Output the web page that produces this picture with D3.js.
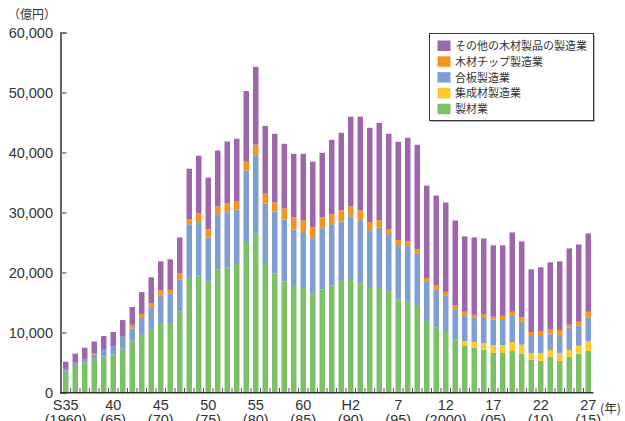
<!DOCTYPE html>
<html>
<head>
<meta charset="utf-8">
<script src="https://cdn.jsdelivr.net/npm/d3@7"></script>
<style>
  body { margin: 0; background: #fff; }
  svg text { font-family: "Liberation Sans", Arial, sans-serif; fill: #333; }
  .jp { font-family: "Noto Sans CJK JP", sans-serif; }
</style>
</head>
<body>
<div id="chart"></div>
<script>
// years S35 (1960) .. H27 (2015)
var years = d3.range(1960, 2016);

// x tick labels (every 5 years)
var tickTop = ["S35", "40", "45", "50", "55", "60", "H2", "7", "12", "17", "22", "27"];
var tickBottom = ["(1960)", "(65)", "(70)", "(75)", "(80)", "(85)", "(90)", "(95)", "(2000)", "(05)", "(10)", "(15)"];
var yTicks = [0, 10000, 20000, 30000, 40000, 50000, 60000];

// values in 億円
var sawmill = [3450, 4430, 4980, 5430, 5980, 6310, 7300, 8630, 9600, 10460,
  11450, 11570, 13560, 19090, 19540, 18540, 20530, 20870, 21410, 25070,
  26510, 21410, 19870, 18540, 17760, 17430, 16550, 17210, 17880, 18430,
  18760, 18210, 17430, 17430, 16770, 15550, 15220, 14440, 11900, 10900,
  10240, 8800, 7800, 7470, 7140, 6590, 6590, 6920, 6470, 5430,
  5260, 5930, 5260, 5930, 6470, 6920];
var laminated = [0, 0, 0, 0, 0, 0, 0, 0, 0, 0,
  0, 0, 0, 0, 0, 0, 0, 0, 0, 0,
  0, 0, 0, 0, 0, 0, 0, 0, 0, 0,
  0, 0, 0, 0, 0, 0, 0, 0, 0, 0,
  0, 0, 780, 950, 1110, 1330, 1330, 1500, 1500, 1160,
  1330, 1160, 1330, 1160, 1330, 1660];
var plywood = [480, 550, 610, 900, 1270, 1440, 2000, 2060, 2970, 3770,
  4740, 4870, 5310, 8960, 8850, 7310, 9180, 9180, 9080, 11950,
  12950, 10080, 10290, 10290, 9410, 9300, 9180, 10180, 10170, 10070,
  10620, 10510, 9630, 10080, 9630, 8850, 9180, 8630, 6530, 6200,
  5860, 5090, 4200, 4030, 4320, 4200, 4310, 4360, 3820, 2990,
  2990, 2710, 2990, 3700, 3320, 3870];
var chip = [0, 0, 0, 120, 0, 0, 0, 600, 520, 680,
  860, 660, 1000, 780, 1440, 1330, 1330, 1440, 1330, 1440,
  1870, 1660, 1550, 1880, 2000, 1990, 1780, 1780, 1660, 1880,
  1660, 1660, 1330, 1210, 770, 1000, 780, 780, 660, 780,
  670, 670, 670, 500, 490, 500, 550, 670, 780, 500,
  660, 660, 830, 500, 670, 1000];
var other = [1200, 1500, 1880, 2050, 2160, 2330, 2770, 2940, 3640, 4300,
  4810, 5090, 5980, 8470, 9630, 8620, 9300, 10340, 10460, 11790,
  12950, 11290, 11400, 10740, 10620, 11070, 10950, 10790, 12400, 12900,
  14940, 15600, 15720, 16220, 15940, 16380, 17270, 17430, 15390, 14940,
  14890, 14110, 12560, 12900, 12620, 11900, 11740, 13230, 12610, 10450,
  10630, 11240, 11450, 12730, 12890, 13060];

var seriesKeys = ["sawmill", "laminated", "plywood", "chip", "other"];
var seriesNames = {
  other: "その他の木材製品の製造業",
  chip: "木材チップ製造業",
  plywood: "合板製造業",
  laminated: "集成材製造業",
  sawmill: "製材業"
};
var colors = {
  sawmill: "#7bc166",
  laminated: "#fdca2c",
  plywood: "#7f9fd3",
  chip: "#f7931e",
  other: "#a066ad"
};

var width = 625, height = 421;
var svg = d3.select("#chart").append("svg")
  .attr("width", width).attr("height", height);

var rows = years.map(function(y, i) {
  return { year: y, sawmill: sawmill[i], laminated: laminated[i], plywood: plywood[i], chip: chip[i], other: other[i] };
});
var stacked = d3.stack().keys(seriesKeys)(rows);

var x = d3.scaleBand().domain(years).range([61, 593]).paddingInner(0.42).paddingOuter(0.21);
var y = d3.scaleLinear().domain([0, 60000]).range([392.5, 32.5]);

// bars
svg.append("g").selectAll("g")
  .data(stacked)
  .join("g")
  .attr("fill", function(d) { return colors[d.key]; })
  .selectAll("rect")
  .data(function(d) { return d; })
  .join("rect")
  .attr("x", function(d) { return x(d.data.year); })
  .attr("width", x.bandwidth())
  .attr("y", function(d) { return y(d[1]); })
  .attr("height", function(d) { return y(d[0]) - y(d[1]); });

// y axis
var yAxis = svg.append("g").attr("transform", "translate(60.5,0)")
  .call(d3.axisRight(y).tickValues(yTicks).tickSize(6).tickFormat(""));
yAxis.select(".domain").attr("stroke", "#333").attr("stroke-width", 1.5);
yAxis.selectAll(".tick line").attr("stroke", "#777").attr("stroke-width", 1.5);

svg.append("g").selectAll("text")
  .data(yTicks)
  .join("text")
  .attr("x", 53)
  .attr("y", function(d) { return y(d) + 5; })
  .attr("text-anchor", "end")
  .attr("font-size", 14.5)
  .text(function(d) { return d3.format(",")(d); });

svg.append("text").attr("class", "jp")
  .attr("x", 8).attr("y", 19)
  .attr("font-size", 12)
  .text("（億円）");

// x axis: ticks at band boundaries, pointing up
var step = x.step();
var boundaries = years.slice(1).map(function(yr) { return x(yr) - (step - x.bandwidth()) / 2; });
svg.append("g").selectAll("line")
  .data(boundaries)
  .join("line")
  .attr("x1", function(d) { return d; })
  .attr("x2", function(d) { return d; })
  .attr("y1", 388)
  .attr("y2", 392.5)
  .attr("stroke", "#555")
  .attr("stroke-width", 1);

svg.append("line")
  .attr("x1", 60).attr("x2", 593.5)
  .attr("y1", 392.7).attr("y2", 392.7)
  .attr("stroke", "#333").attr("stroke-width", 1.5);

var labelYears = years.filter(function(yr, i) { return i % 5 === 0; });
var xl = svg.append("g").selectAll("text")
  .data(labelYears)
  .join("text")
  .attr("text-anchor", "middle")
  .attr("font-size", 14.5)
  .attr("x", function(d) { return x(d) + x.bandwidth() / 2; });
xl.append("tspan")
  .attr("y", 409.5)
  .text(function(d, i) { return tickTop[i]; });
xl.append("tspan")
  .attr("x", function(d) { return x(d) + x.bandwidth() / 2; })
  .attr("y", 425)
  .text(function(d, i) { return tickBottom[i]; });

svg.append("text").attr("class", "jp")
  .attr("x", 600).attr("y", 413)
  .attr("font-size", 12.5)
  .text("(年)");

// legend
var legend = svg.append("g").attr("transform", "translate(429.5,33.5)");
legend.append("rect")
  .attr("x", 1.5).attr("y", 1.5).attr("width", 164).attr("height", 87)
  .attr("fill", "#bbb");
legend.append("rect")
  .attr("width", 164).attr("height", 87)
  .attr("fill", "#fff").attr("stroke", "#333").attr("stroke-width", 1);
var legendKeys = ["other", "chip", "plywood", "laminated", "sawmill"];
var li = legend.selectAll("g.item")
  .data(legendKeys)
  .join("g")
  .attr("class", "item")
  .attr("transform", function(d, i) { return "translate(8," + (7 + i * 15.8) + ")"; });
li.append("rect")
  .attr("width", 13).attr("height", 10.5)
  .attr("fill", function(d) { return colors[d]; });
li.append("text").attr("class", "jp")
  .attr("x", 17.5).attr("y", 9.5)
  .attr("font-size", 11)
  .text(function(d) { return seriesNames[d]; });
</script>
</body>
</html>
